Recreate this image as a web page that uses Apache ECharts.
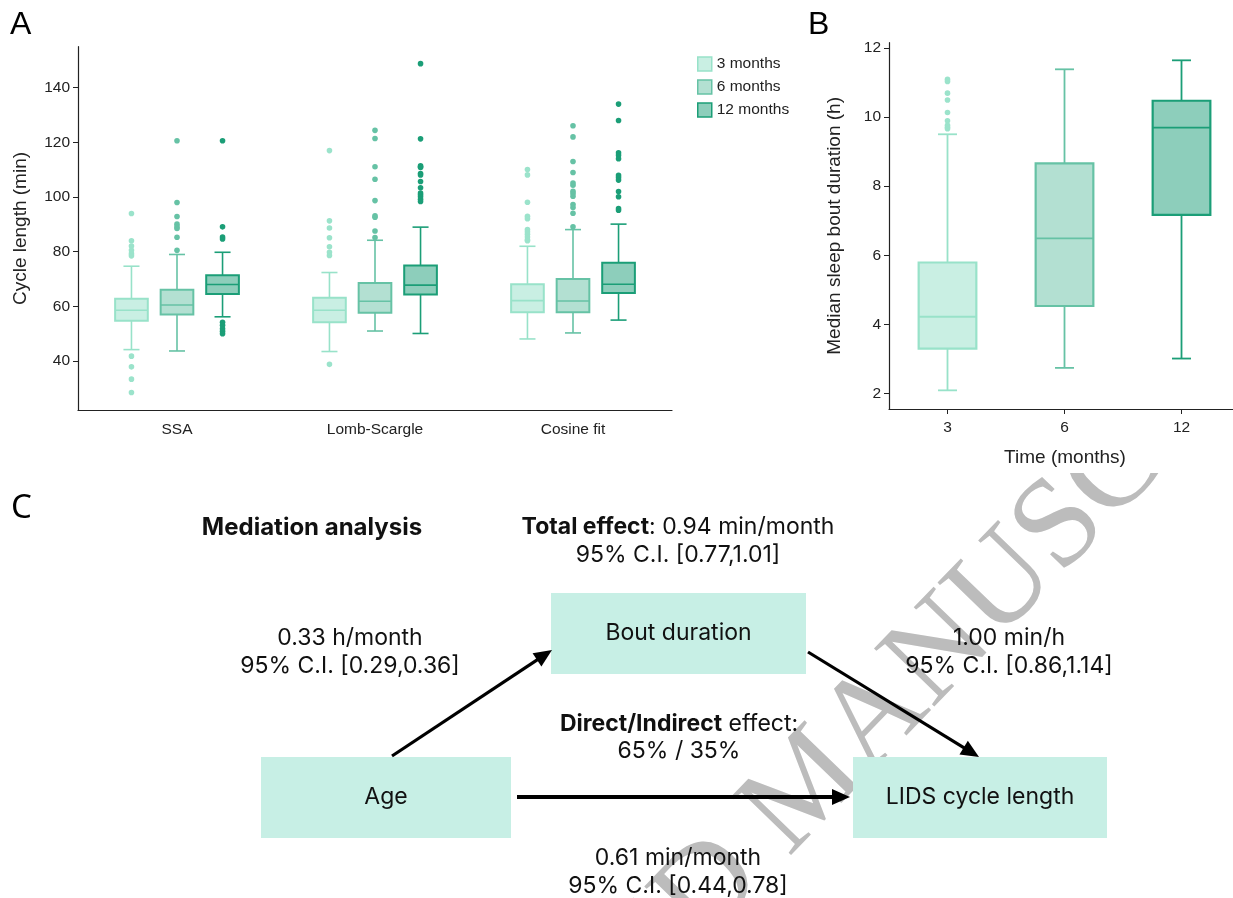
<!DOCTYPE html>
<html>
<head>
<meta charset="utf-8">
<script src="https://cdn.jsdelivr.net/npm/echarts@6/dist/echarts.min.js"></script>
<style>
  html, body { margin: 0; padding: 0; background: #fff; }
  #main { width: 1233px; height: 898px; }
</style>
</head>
<body>
<div id="main"></div>
<script>
// panel A: cycle length per method and age group
const methods = ['SSA', 'Lomb-Scargle', 'Cosine fit']
const groups = ['3 months', '6 months', '12 months']
// [min, Q1, median, Q3, max] per method
const box3 = [[44.2, 54.8, 58.6, 62.8, 74.7], [43.5, 54.2, 58.6, 63.2, 72.4], [48.1, 57.9, 62.1, 68.1, 82.0]]
const box6 = [[43.7, 57.0, 60.5, 66.1, 79.0], [51.0, 57.7, 61.9, 68.6, 84.2], [50.3, 57.9, 62.0, 70.0, 88.1]]
const box12 = [[56.2, 64.5, 68.0, 71.4, 79.8], [50.1, 64.4, 67.8, 75.0, 89.0], [55.0, 64.9, 68.1, 76.0, 90.1]]
const out3 = [
  [94.0, 84.0, 82.1, 80.5, 79.3, 78.5, 41.8, 37.9, 33.4, 28.5],
  [117.0, 91.3, 88.7, 85.1, 81.8, 79.8, 78.6, 38.8],
  [110.1, 108.1, 98.1, 93.0, 92.1, 88.1, 87.3, 86.4, 85.4, 84.4, 84.0]
]
const out6 = [
  [120.6, 98.0, 92.9, 90.1, 89.1, 88.5, 85.3, 80.5],
  [124.4, 121.4, 111.1, 106.5, 98.7, 93.1, 92.6, 87.6, 85.2],
  [126.1, 122.0, 113.0, 109.0, 105.1, 104.3, 102.1, 101.3, 100.3, 97.3, 96.2, 94.1, 89.1]
]
const out12 = [
  [120.6, 89.1, 85.4, 84.7, 54.2, 53.1, 51.8, 50.9, 50.0],
  [148.8, 121.3, 111.4, 111.1, 110.8, 108.6, 108.1, 105.7, 103.4, 101.5, 100.8, 100.1, 99.2, 98.4],
  [134.0, 128.0, 116.2, 115.3, 114.0, 108.0, 107.2, 106.2, 102.0, 100.1, 95.8, 95.2]
]
const cycleTicks = [40, 60, 80, 100, 120, 140]

// panel B: median sleep bout duration
const months = ['3', '6', '12']
const boutBox = [[2.09, 3.30, 4.22, 5.79, 9.50], [2.74, 4.53, 6.49, 8.66, 11.38], [3.01, 7.17, 9.69, 10.47, 11.64]]
const boutOut = [[11.09, 11.03, 10.69, 10.49, 10.13, 9.89, 9.76, 9.70, 9.66], [], []]
const boutTicks = [2, 4, 6, 8, 10, 12]

// panel C: mediation analysis
const totalEffect = ['0.94 min/month', '95% C.I. [0.77,1.01]']
const ageToBout = ['0.33 h/month', '95% C.I. [0.29,0.36]']
const boutToCycle = ['1.00 min/h', '95% C.I. [0.86,1.14]']
const directShare = '65% / 35%'
const ageToCycle = ['0.61 min/month', '95% C.I. [0.44,0.78]']

const palette = [
  { fill: '#c9efe3', stroke: '#98e2c9', dot: '#9be3cb' },
  { fill: '#b3e0d2', stroke: '#66c2a5', dot: '#66c2a5' },
  { fill: '#8dcebb', stroke: '#1b9e77', dot: '#1b9e77' }
]
const AX = '#222'
const SANS = 'Liberation Sans'

const boxRenderer = (offset, boxFrac, capFrac, colorOf, lw) => (params, api) => {
  const idx = api.value(0)
  const band = api.size([1, 0])[0]
  const cx = api.coord([idx, 0])[0] + offset * band
  const py = d => api.coord([idx, api.value(d)])[1]
  const yMin = py(1); const yQ1 = py(2); const yMed = py(3); const yQ3 = py(4); const yMax = py(5)
  const w = boxFrac * band
  const cw = capFrac * band
  const c = colorOf(params.dataIndex)
  const ls = { stroke: c.stroke, lineWidth: lw }
  return {
    type: 'group',
    children: [
      { type: 'line', shape: { x1: cx, y1: yQ1, x2: cx, y2: yMin }, style: ls },
      { type: 'line', shape: { x1: cx, y1: yQ3, x2: cx, y2: yMax }, style: ls },
      { type: 'line', shape: { x1: cx - cw / 2, y1: yMin, x2: cx + cw / 2, y2: yMin }, style: ls },
      { type: 'line', shape: { x1: cx - cw / 2, y1: yMax, x2: cx + cw / 2, y2: yMax }, style: ls },
      { type: 'rect', shape: { x: cx - w / 2, y: yQ3, width: w, height: yQ1 - yQ3 }, style: { fill: c.fill, stroke: c.stroke, lineWidth: lw + 0.4 } },
      { type: 'line', shape: { x1: cx - w / 2, y1: yMed, x2: cx + w / 2, y2: yMed }, style: ls }
    ]
  }
}

const dotRenderer = (offset, colorOf) => (params, api) => {
  const idx = api.value(0)
  const band = api.size([1, 0])[0]
  const p = api.coord([idx, api.value(1)])
  return {
    type: 'circle',
    shape: { cx: p[0] + offset * band, cy: p[1], r: 2.8 },
    style: { fill: colorOf(params.dataIndex) }
  }
}

const boxesA = [box3, box6, box12]
const outsA = [out3, out6, out12]
const offsetsA = [-0.23, 0, 0.23]
const seriesA = []
groups.forEach((g, gi) => {
  seriesA.push({
    type: 'custom',
    name: g,
    xAxisIndex: 0,
    yAxisIndex: 0,
    itemStyle: { color: palette[gi].fill },
    encode: { x: 0, y: [1, 2, 3, 4, 5] },
    data: boxesA[gi].map((b, i) => [i, ...b]),
    renderItem: boxRenderer(offsetsA[gi], 0.165, 0.081, () => palette[gi], 1.6)
  })
  seriesA.push({
    type: 'custom',
    name: g,
    xAxisIndex: 0,
    yAxisIndex: 0,
    itemStyle: { color: palette[gi].fill },
    encode: { x: 0, y: 1 },
    data: outsA[gi].flatMap((vals, i) => vals.map(v => [i, v])),
    renderItem: dotRenderer(offsetsA[gi], () => palette[gi].dot)
  })
})

// panel B sits on a value axis so its last band can run past the page edge
const monthIdx = months.map((m, i) => i)
const boutDots = boutOut.flatMap((vals, i) => vals.map(v => [i, v]))
const seriesB = [
  {
    type: 'custom',
    name: 'bout',
    xAxisIndex: 1,
    yAxisIndex: 1,
    encode: { x: 0, y: [1, 2, 3, 4, 5] },
    data: boutBox.map((b, i) => [i, ...b]),
    renderItem: boxRenderer(0, 0.493, 0.162, i => palette[i], 1.8)
  },
  {
    type: 'custom',
    name: 'bout outliers',
    xAxisIndex: 1,
    yAxisIndex: 1,
    encode: { x: 0, y: 1 },
    data: boutDots,
    renderItem: dotRenderer(0, i => palette[boutDots[i][0]].dot)
  }
]

// diagram helpers
const FONT = 'Inter'
const FS = 23
const txt = (text, x, y, opts = {}) => ({
  type: 'text',
  x,
  y,
  style: Object.assign({
    text,
    fontFamily: FONT,
    fontSize: FS,
    fill: '#111',
    align: 'center',
    verticalAlign: 'middle'
  }, opts)
})
const twoLines = (lines, x, y) => [txt(lines[0], x, y), txt(lines[1], x, y + 28)]
const node = (x, y, w, h, label) => [
  { type: 'rect', shape: { x, y, width: w, height: h }, style: { fill: '#c7efe5' } },
  txt(label, x + w / 2, y + h / 2)
]
const arrow = (x1, y1, x2, y2, lw) => {
  const len = 18; const half = 8
  const dx = x2 - x1; const dy = y2 - y1
  const d = Math.sqrt(dx * dx + dy * dy)
  const ux = dx / d; const uy = dy / d
  const bx = x2 - ux * len; const by = y2 - uy * len
  return [
    { type: 'line', shape: { x1, y1, x2: bx + ux * 2, y2: by + uy * 2 }, style: { stroke: '#000', lineWidth: lw } },
    { type: 'polygon', shape: { points: [[x2, y2], [bx - uy * half, by + ux * half], [bx + uy * half, by - ux * half]] }, style: { fill: '#000' } }
  ]
}
const richBold = (bold, rest) => ({
  text: `{b|${bold}}{n|${rest}}`,
  rich: {
    b: { fontFamily: FONT, fontSize: FS, fontWeight: 'bold', fill: '#111' },
    n: { fontFamily: FONT, fontSize: FS, fill: '#111' }
  }
})

const diagram = [
  {
    type: 'text',
    x: 810,
    y: 787,
    rotation: 46 * Math.PI / 180,
    z: -20,
    silent: true,
    style: { text: 'ACCEPTED MANUSCRIPT', fontFamily: 'Liberation Serif', fontSize: 128, fill: '#bcbcbc', align: 'center', verticalAlign: 'middle' }
  },
  { type: 'rect', z: -10, silent: true, shape: { x: 0, y: 0, width: 1233, height: 473 }, style: { fill: '#fff' } },
  { type: 'text', x: 10, y: 25, style: { text: 'A', fontFamily: SANS, fontSize: 32, fill: '#000', verticalAlign: 'middle' } },
  { type: 'text', x: 808, y: 25, style: { text: 'B', fontFamily: SANS, fontSize: 32, fill: '#000', verticalAlign: 'middle' } },
  { type: 'text', x: 11, y: 509, style: { text: 'C', fontFamily: 'Noto Sans', fontSize: 33, fill: '#000', verticalAlign: 'middle' } },
  txt('Mediation analysis', 312, 528, { fontWeight: 'bold', fontSize: 24 }),
  txt('', 678, 527, richBold('Total effect', ': ' + totalEffect[0])),
  txt(totalEffect[1], 678, 555),
  ...twoLines(ageToBout, 350, 638),
  ...twoLines(boutToCycle, 1009, 638),
  txt('', 679, 724, richBold('Direct/Indirect', ' effect:')),
  txt(directShare, 679, 751),
  ...twoLines(ageToCycle, 678, 858),
  ...node(261, 757, 250, 81, 'Age'),
  ...node(551, 593, 255, 81, 'Bout duration'),
  ...node(853, 757, 254, 81, 'LIDS cycle length'),
  ...arrow(392, 756, 552, 650, 3.2),
  ...arrow(808, 652, 979, 757, 3.2),
  ...arrow(517, 797, 850, 797, 4)
]

const chart = echarts.init(document.getElementById('main'), null, { renderer: 'canvas' })
chart.setOption({
  animation: false,
  backgroundColor: '#fff',
  textStyle: { fontFamily: SANS },
  legend: {
    orient: 'vertical',
    left: 692,
    top: 51,
    itemWidth: 14,
    itemHeight: 14,
    itemGap: 7,
    selectedMode: false,
    textStyle: { fontFamily: SANS, fontSize: 15.5, color: AX },
    data: groups.map((g, gi) => ({
      name: g,
      icon: 'rect',
      itemStyle: { color: palette[gi].fill, borderColor: palette[gi].stroke, borderWidth: 1.5 }
    }))
  },
  grid: [
    { left: 78, top: 46.7, width: 594, height: 363.6 },
    { left: 889, top: 42.7, right: 0, height: 366.3 }
  ],
  xAxis: [
    {
      gridIndex: 0,
      type: 'category',
      data: methods,
      axisLine: { lineStyle: { color: AX, width: 1.2 } },
      axisTick: { alignWithLabel: true, length: 5, lineStyle: { color: AX } },
      axisLabel: { margin: 11, fontSize: 15.5, color: AX, fontFamily: SANS }
    },
    {
      gridIndex: 1,
      type: 'value',
      min: -0.5,
      max: (1233 - 889) / 117 - 0.5,
      name: 'Time (months)',
      nameLocation: 'middle',
      nameGap: 39,
      nameTextStyle: { fontSize: 19, color: AX, fontFamily: SANS, padding: [0, 0, 0, 8] },
      splitLine: { show: false },
      axisLine: { onZero: false, lineStyle: { color: AX, width: 1.2 } },
      axisTick: { length: 5, customValues: monthIdx, lineStyle: { color: AX } },
      axisLabel: { margin: 11, fontSize: 15.5, color: AX, fontFamily: SANS, customValues: monthIdx, formatter: v => months[v] }
    }
  ],
  yAxis: [
    {
      gridIndex: 0,
      type: 'value',
      min: 22,
      max: 155,
      name: 'Cycle length (min)',
      nameLocation: 'middle',
      nameGap: 48,
      nameTextStyle: { fontSize: 19, color: AX, fontFamily: SANS },
      splitLine: { show: false },
      axisLine: { show: true, lineStyle: { color: AX, width: 1.2 } },
      axisTick: { show: true, length: 5, customValues: cycleTicks, lineStyle: { color: AX } },
      axisLabel: { margin: 8, fontSize: 15.5, color: AX, fontFamily: SANS, customValues: cycleTicks }
    },
    {
      gridIndex: 1,
      type: 'value',
      min: 1.55,
      max: 12.15,
      name: 'Median sleep bout duration (h)',
      nameLocation: 'middle',
      nameGap: 45,
      nameTextStyle: { fontSize: 19, color: AX, fontFamily: SANS },
      splitLine: { show: false },
      axisLine: { show: true, onZero: false, lineStyle: { color: AX, width: 1.2 } },
      axisTick: { show: true, length: 5, customValues: boutTicks, lineStyle: { color: AX } },
      axisLabel: { margin: 8, fontSize: 15.5, color: AX, fontFamily: SANS, customValues: boutTicks }
    }
  ],
  graphic: { elements: diagram },
  series: [...seriesA, ...seriesB]
})
</script>
</body>
</html>
